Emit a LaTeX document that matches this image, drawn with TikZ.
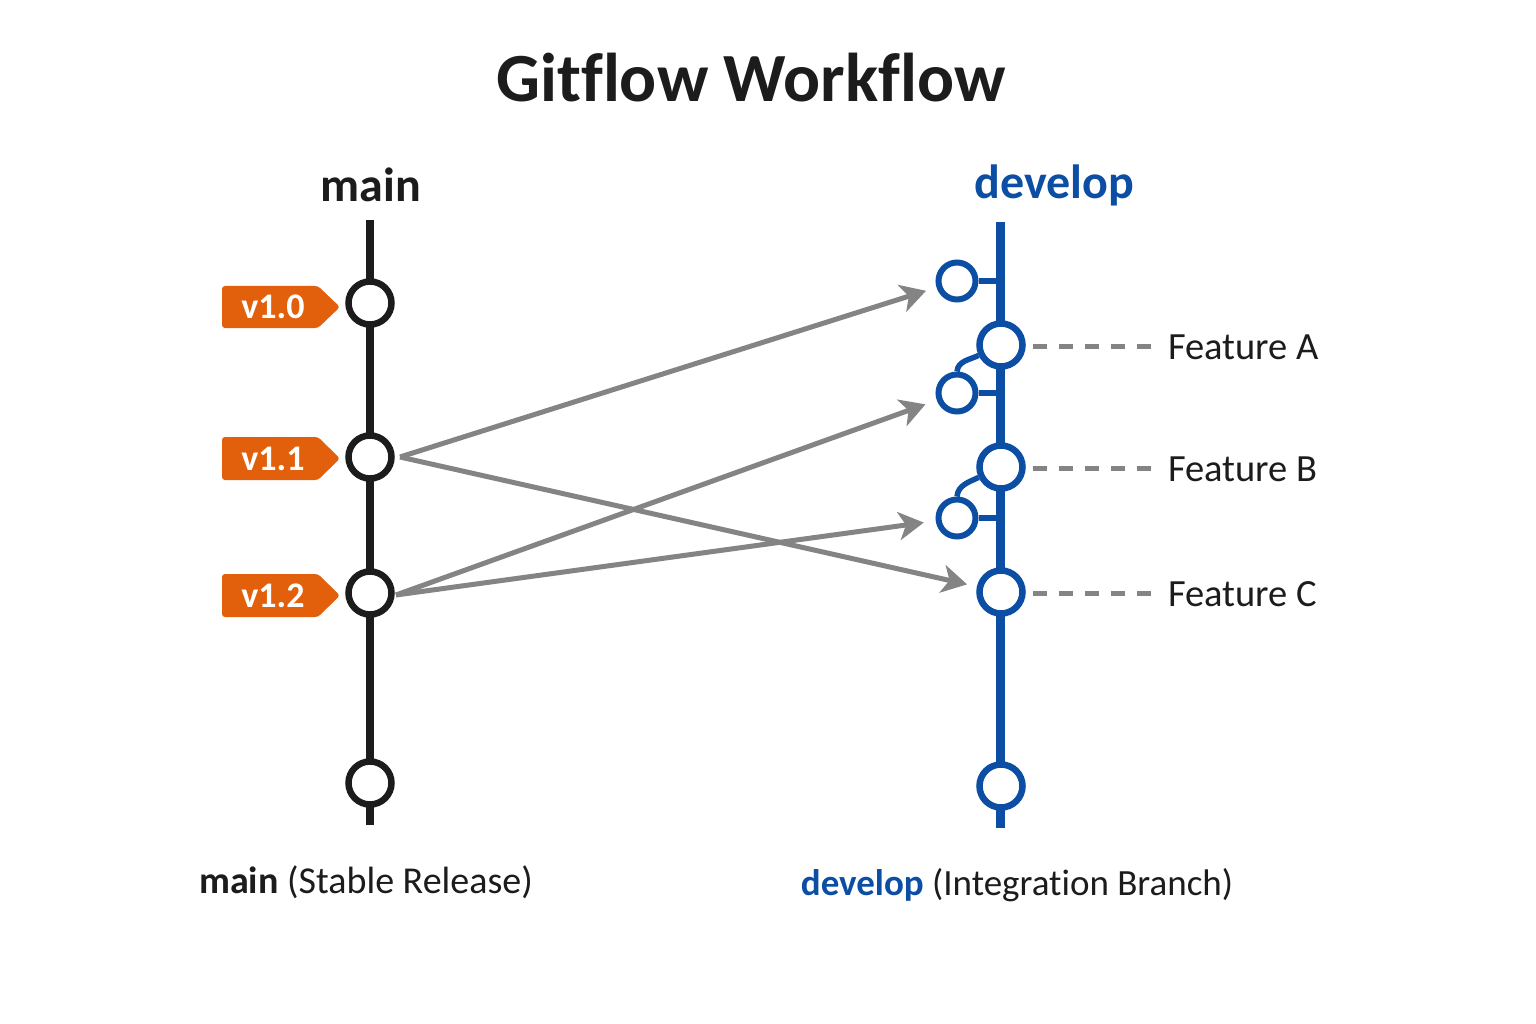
\documentclass[tikz,border=0pt]{standalone}
\usepackage{fontspec}
\setmainfont{Carlito}[Ligatures={NoCommon}]
\usetikzlibrary{arrows.meta}
\definecolor{ink}{HTML}{1C1C1C}
\definecolor{devblue}{HTML}{0B4EA3}
\definecolor{tagorange}{HTML}{E2600B}
\definecolor{arrgray}{HTML}{848484}
\begin{document}
\begin{tikzpicture}[x=1pt,y=-1pt,
  commit/.style={circle,draw=ink,fill=white,line width=6.5pt,minimum size=43pt,inner sep=0pt},
  devcommit/.style={commit,draw=devblue},
  featcommit/.style={circle,draw=devblue,fill=white,line width=6pt,minimum size=37pt,inner sep=0pt},
  mainline/.style={draw=ink,line width=8.5pt},
  devline/.style={draw=devblue,line width=9pt},
  stub/.style={draw=devblue,line width=5.5pt},
  merge/.style={draw=arrgray,line width=5pt,-{Stealth[length=25pt,width=28pt,inset=7pt]}},
  featdash/.style={draw=arrgray,line width=5pt,dash pattern=on 14pt off 12pt},
  tagbox/.style={fill=tagorange,rounded corners=3pt},
  tagtext/.style={text=white,font=\fontsize{36}{40}\selectfont\bfseries,inner sep=0pt},
  heading/.style={font=\fontsize{48}{54}\selectfont\bfseries,inner sep=0pt},
  featlabel/.style={text=ink,font=\fontsize{38.5}{44}\selectfont,anchor=west,inner sep=0pt},
  caption/.style={text=ink,font=\fontsize{38}{44}\selectfont,inner sep=0pt}
]
\useasboundingbox[fill=white] (0,0) rectangle (1536,1024);

% title and headings
\node[text=ink,font=\fontsize{69}{76}\selectfont\bfseries,inner sep=0pt] (title) at (751,78) {Gitflow Workflow};
\node[heading,text=ink] (mainhead) at (371,185) {main};
\node[heading,text=devblue] (devhead) at (1054,185) {develop};

% branch lines
\coordinate (mtop) at (370,220);
\coordinate (mbot) at (370,825);
\coordinate (dtop) at (1000,222);
\coordinate (dbot) at (1000,828);
\draw[mainline] (mtop) -- (mbot);
\draw[devline] (dtop) -- (dbot);

% main commits
\node[commit] (m10) at (370,303) {};
\node[commit] (m11) at (370,457) {};
\node[commit] (m12) at (370,593) {};
\node[commit] (m13) at (370,783) {};

% develop commits
\node[devcommit] (fa) at (1001,345) {};
\node[devcommit] (fb) at (1001,467) {};
\node[devcommit] (fc) at (1001,592) {};
\node[devcommit] (dend) at (1001,786) {};

% feature branch commits
\node[featcommit] (d1) at (957,281) {};
\node[featcommit] (d2) at (957,393) {};
\node[featcommit] (d3) at (957,518) {};
\draw[stub] (d1.east) -- (d1.east -| dtop);
\draw[stub] (d2.east) -- (d2.east -| dtop);
\draw[stub] (d3.east) -- (d3.east -| dtop);
\draw[stub] (d2.north) to[out=85,in=205] (fa.205);
\draw[stub] (d3.north) to[out=85,in=205] (fb.205);

% tags
\path[tagbox] (222,286) -- (318,286) -- (340,307) -- (318,328) -- (222,328) -- cycle;
\path[tagbox] (222,437) -- (318,437) -- (340,458.5) -- (318,480) -- (222,480) -- cycle;
\path[tagbox] (222,574) -- (318,574) -- (340,595.5) -- (318,617) -- (222,617) -- cycle;
\node[tagtext] (t10) at (273,307) {v1.0};
\node[tagtext] (t11) at (273,459) {v1.1};
\node[tagtext] (t12) at (273,596) {v1.2};

% merge arrows
\coordinate (s11) at (400,457);
\coordinate (s12) at (396,595);
\draw[merge,shorten >=11pt] (s11) -- (d1);
\draw[merge,shorten >=10pt] (s11) -- (fc);
\draw[merge,shorten >=12pt] (s12) -- (d2);
\draw[merge,shorten >=12pt] (s12) -- (d3);

% feature dashes and labels
\coordinate (ea) at (1152,346);
\coordinate (eb) at (1152,468);
\coordinate (ec) at (1152,593);
\draw[featdash] (1033,346) -- (ea);
\draw[featdash] (1033,468) -- (eb);
\draw[featdash] (1033,593) -- (ec);
\node[featlabel] (la) at (1168,347) {Feature A};
\node[featlabel] (lb) at (1168,469) {Feature B};
\node[featlabel] (lc) at (1168,594) {Feature C};

% captions
\node[caption] (mcap) at (366,882) {\textbf{main} (Stable Release)};
\node[caption,font=\fontsize{37}{42}\selectfont] (dcap) at (1017,885) {\textcolor{devblue}{\textbf{develop}} (Integration Branch)};
\end{tikzpicture}
\end{document}
